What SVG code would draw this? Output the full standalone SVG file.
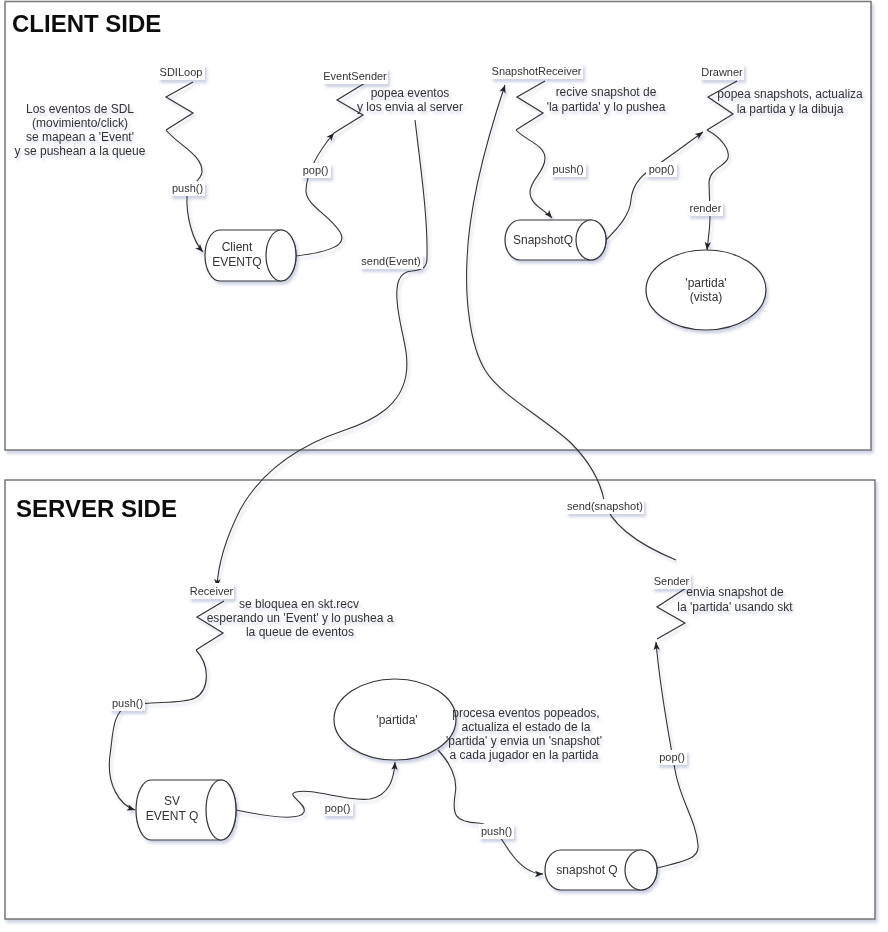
<svg xmlns="http://www.w3.org/2000/svg" width="888" height="932" viewBox="0 0 888 932">
<defs>
<filter id="sh" filterUnits="userSpaceOnUse" x="0" y="0" width="888" height="932">
<feDropShadow dx="2" dy="3" stdDeviation="1.5" flood-color="#5a6aa0" flood-opacity="0.3"/>
</filter>
<marker id="arr" viewBox="0 0 10 10" refX="10" refY="5" markerWidth="8" markerHeight="8" orient="auto" markerUnits="userSpaceOnUse">
<path d="M0,1 L10,5 L0,9 L2.5,5 Z" fill="#222"/>
</marker>
</defs>
<style>
.frame{fill:#fff;stroke:#777;stroke-width:1.5}
.title{font-family:"Liberation Sans",Arial,sans-serif;font-weight:bold;font-size:24px;fill:#111}
.txt{font-family:"Liberation Sans",Arial,sans-serif;font-size:12px;fill:#333;text-anchor:middle}
.lbl{font-family:"Liberation Sans",Arial,sans-serif;font-size:11px;fill:#333;text-anchor:middle}
.lb{fill:#fff;stroke:none}
.shape{fill:#fff;stroke:#333;stroke-width:1.2}
.zz{fill:none;stroke:#333;stroke-width:1.2}
.edge{fill:none;stroke:#333;stroke-width:1.1;marker-end:url(#arr)}
.line{fill:none;stroke:#333;stroke-width:1.1}
</style>
<rect width="888" height="932" fill="#fff"/>
<g id="client-frame" filter="url(#sh)">
<rect class="frame" x="5" y="1.5" width="866" height="448.5"/>
<text class="title" x="12" y="32">CLIENT SIDE</text>
</g>
<g id="server-frame" filter="url(#sh)">
<rect class="frame" x="5" y="480" width="870" height="439"/>
<text class="title" x="16" y="517">SERVER SIDE</text>
</g>
<g id="connectors" filter="url(#sh)">
<path class="edge" d="M166,130 C178,145 203,155 202,172 C201,182 188,185 187,195 C186,215 192,240 203,252"/>
<path class="edge" d="M296,256 C330,252 348,245 340,232 C330,215 305,205 306,190 C307,172 318,152 334,133"/>
<path class="edge" d="M415,120 C421,170 428,220 427,258 C427,268 422,270 412,271 C398,272 396,285 397,300 C399,330 410,350 406,375 C401,405 375,420 345,430 C300,445 262,470 240,510 C225,540 218,565 217,587"/>
<path class="edge" d="M516,130 C525,140 545,145 545,158 C545,172 530,180 530,192 C530,205 545,210 552,218"/>
<path class="edge" d="M606,240 C618,228 630,215 631,200 C632,188 638,178 650,170 C665,160 685,145 703,132"/>
<path class="edge" d="M707,130 C722,138 730,150 728,158 C726,166 710,168 709,182 L710,215 C710,230 708,240 707,250"/>
<path class="edge" d="M676,560 C640,545 610,525 604,500 C600,480 590,462 570,442 C540,415 500,395 485,370 C470,345 465,300 467,260 C469,200 490,130 505,85"/>
<path class="edge" d="M196,650 C210,665 210,690 195,698 C180,705 150,700 128,706 C112,712 113,735 110,755 C106,785 120,805 135,810"/>
<path class="edge" d="M236,810 C260,815 300,822 304,812 C307,803 285,795 296,792 C315,788 345,802 370,799 C390,795 394,778 395,762"/>
<path class="edge" d="M438,750 C452,765 458,780 455,795 C452,815 455,822 478,823 C495,824 500,838 510,852 C520,866 530,874 543,874"/>
<path class="edge" d="M657,868 C680,862 700,860 698,845 C696,820 680,800 675,770 C668,730 660,690 656,642"/>
<rect class="lb" x="170" y="181" width="35" height="15"/><text class="lbl" x="187.5" y="192">push()</text>
<rect class="lb" x="301" y="163" width="30" height="15"/><text class="lbl" x="315.5" y="174">pop()</text>
<rect class="lb" x="360" y="254" width="63" height="15"/><text class="lbl" x="391" y="265">send(Event)</text>
<rect class="lb" x="551" y="162" width="35" height="15"/><text class="lbl" x="568" y="173">push()</text>
<rect class="lb" x="646" y="162" width="31" height="15"/><text class="lbl" x="661.5" y="173">pop()</text>
<rect class="lb" x="688" y="201" width="35" height="15"/><text class="lbl" x="705.5" y="212">render</text>
<rect class="lb" x="566" y="499" width="78" height="15"/><text class="lbl" x="605" y="510">send(snapshot)</text>
<rect class="lb" x="110" y="696" width="35" height="15"/><text class="lbl" x="127.5" y="707">push()</text>
<rect class="lb" x="323" y="801" width="30" height="15"/><text class="lbl" x="337.5" y="812">pop()</text>
<rect class="lb" x="479" y="824" width="35" height="15"/><text class="lbl" x="496.5" y="835">push()</text>
<rect class="lb" x="657" y="750" width="30" height="15"/><text class="lbl" x="672" y="761">pop()</text>
</g>
<g id="note-sdl" filter="url(#sh)">
<text class="txt" x="80" y="113">Los eventos de SDL</text>
<text class="txt" x="80" y="127">(movimiento/click)</text>
<text class="txt" x="80" y="141">se mapean a 'Event'</text>
<text class="txt" x="80" y="155">y se pushean a la queue</text>
</g>
<g id="sdiloop" filter="url(#sh)">
<polyline class="zz" points="193,82 166,97 193,113 166,130"/>
<rect class="lb" x="158" y="64" width="47" height="16"/>
<text class="lbl" x="181" y="76">SDILoop</text>
</g>
<g id="eventsender" filter="url(#sh)">
<polyline class="zz" points="365,83 337,100 363,115 334,133"/>
<rect class="lb" x="323" y="68" width="65" height="16"/>
<text class="lbl" x="355" y="80">EventSender</text>
<text class="txt" x="410" y="97">popea eventos</text>
<text class="txt" x="410" y="111">y los envia al server</text>
</g>
<g id="client-eventq" filter="url(#sh)">
<path class="shape" d="M220,230 L281,230 A15,25.5 0 0 1 281,281 L220,281 A15,25.5 0 0 1 220,230 Z"/>
<ellipse class="shape" cx="281" cy="255.5" rx="15" ry="25.5"/>
<text class="txt" x="237" y="251">Client</text>
<text class="txt" x="237" y="266">EVENTQ</text>
</g>
<g id="snapshotreceiver" filter="url(#sh)">
<polyline class="zz" points="545,81 517,97 543,113 516,130"/>
<rect class="lb" x="491" y="63" width="92" height="16"/>
<text class="lbl" x="536.5" y="75">SnapshotReceiver</text>
<text class="txt" x="606" y="96">recive snapshot de</text>
<text class="txt" x="606" y="111">'la partida' y lo pushea</text>
</g>
<g id="snapshotq" filter="url(#sh)">
<path class="shape" d="M520,220 L591,220 A15,20 0 0 1 591,260 L520,260 A15,20 0 0 1 520,220 Z"/>
<ellipse class="shape" cx="591" cy="240" rx="15" ry="20"/>
<text class="txt" x="543" y="244">SnapshotQ</text>
</g>
<g id="drawner" filter="url(#sh)">
<polyline class="zz" points="737,81 708,97 733,114 707,130"/>
<rect class="lb" x="700" y="64" width="44" height="16"/>
<text class="lbl" x="722" y="75.5">Drawner</text>
<text class="txt" x="790" y="98">popea snapshots, actualiza</text>
<text class="txt" x="790" y="113">la partida y la dibuja</text>
</g>
<g id="partida-vista" filter="url(#sh)">
<ellipse class="shape" cx="706" cy="290" rx="60" ry="40"/>
<text class="txt" x="706" y="287">'partida'</text>
<text class="txt" x="706" y="301">(vista)</text>
</g>
<g id="receiver" filter="url(#sh)">
<polyline class="zz" points="224,601 197,617 223,633 196,650"/>
<rect class="lb" x="189" y="583" width="45" height="16"/>
<text class="lbl" x="211.5" y="595">Receiver</text>
<text class="txt" x="299" y="608">se bloquea en skt.recv</text>
<text class="txt" x="300" y="622">esperando un 'Event' y lo pushea a</text>
<text class="txt" x="300" y="636">la queue de eventos</text>
</g>
<g id="sv-eventq" filter="url(#sh)">
<path class="shape" d="M151,780 L221,780 A15,30 0 0 1 221,840 L151,840 A15,30 0 0 1 151,780 Z"/>
<ellipse class="shape" cx="221" cy="810" rx="15" ry="30"/>
<text class="txt" x="172" y="805">SV</text>
<text class="txt" x="172" y="820">EVENT Q</text>
</g>
<g id="partida" filter="url(#sh)">
<ellipse class="shape" cx="395" cy="719.5" rx="61" ry="40.5"/>
<text class="txt" x="397" y="724">'partida'</text>
<text class="txt" x="526" y="717">procesa eventos popeados,</text>
<text class="txt" x="526" y="731">actualiza el estado de la</text>
<text class="txt" x="524" y="745">'partida' y envia un 'snapshot'</text>
<text class="txt" x="524" y="759">a cada jugador en la partida</text>
</g>
<g id="snapshot-q" filter="url(#sh)">
<path class="shape" d="M561,850 L641,850 A16,20 0 0 1 641,890 L561,890 A16,20 0 0 1 561,850 Z"/>
<ellipse class="shape" cx="641" cy="870" rx="16" ry="20"/>
<text class="txt" x="587" y="874">snapshot Q</text>
</g>
<g id="sender" filter="url(#sh)">
<polyline class="zz" points="686,588 657,607 685,623 657,639"/>
<rect class="lb" x="652" y="573" width="39" height="16"/>
<text class="lbl" x="671.5" y="585">Sender</text>
<text class="txt" x="735" y="596">envia snapshot de</text>
<text class="txt" x="735" y="611">la 'partida' usando skt</text>
</g>
</svg>
